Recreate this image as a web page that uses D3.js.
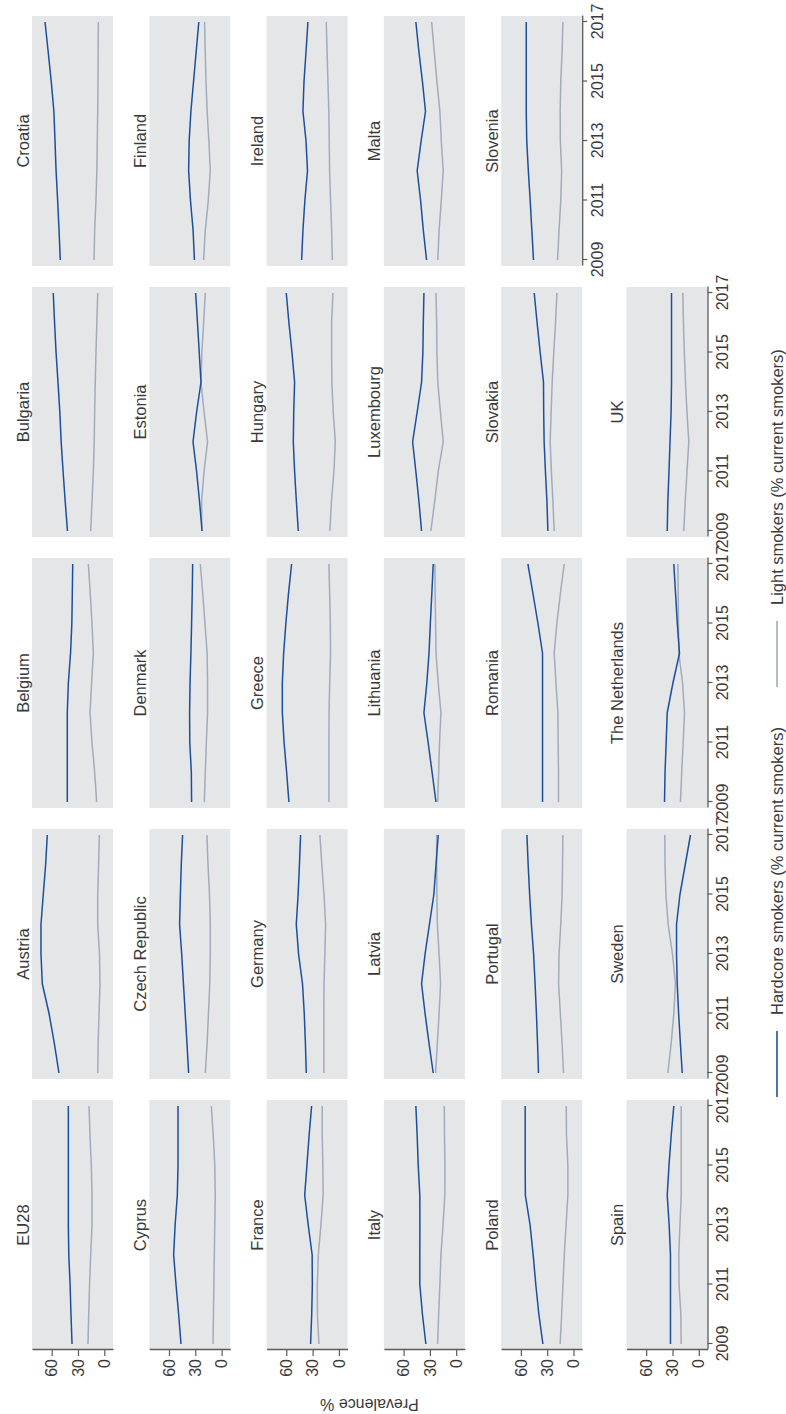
<!DOCTYPE html>
<html>
<head>
<meta charset="utf-8">
<script src="https://cdn.jsdelivr.net/npm/d3@7"></script>
<style>
  html, body { margin: 0; padding: 0; background: #ffffff; }
  svg { display: block; }
  text { font-family: "Liberation Sans", Arial, sans-serif; fill: #3a3a3a; }
</style>
</head>
<body>
<svg id="chart" width="786" height="1414"></svg>
<script>
// Survey years and axis ticks
const years = [2009, 2010, 2011, 2012, 2013, 2014, 2015, 2016, 2017];
const yearTicks = [2009, 2011, 2013, 2015, 2017];
const valueTicks = [0, 30, 60];

// Panels, in reading order
const countries = [
  "EU28", "Austria", "Belgium", "Bulgaria", "Croatia",
  "Cyprus", "Czech Republic", "Denmark", "Estonia", "Finland",
  "France", "Germany", "Greece", "Hungary", "Ireland",
  "Italy", "Latvia", "Lithuania", "Luxembourg", "Malta",
  "Poland", "Portugal", "Romania", "Slovakia", "Slovenia",
  "Spain", "Sweden", "The Netherlands", "UK"
];

// Hardcore smokers (% of current smokers), one row per country, 2009-2017
const hardcore = [
  [36.8, 38.0, 39.0, 40.5, 41.0, 41.0, 41.0, 41.0, 41.0],
  [51.7, 57.0, 63.0, 70.7, 72.2, 72.2, 69.6, 66.9, 65.0],
  [42.2, 42.2, 42.2, 42.2, 41.0, 38.5, 37.0, 36.5, 36.0],
  [42.0, 44.6, 47.0, 49.2, 50.7, 52.8, 55.0, 56.7, 58.2],
  [50.2, 51.6, 53.2, 55.0, 56.2, 57.5, 60.5, 64.0, 67.6],
  [46.3, 49.0, 52.0, 54.7, 53.0, 50.5, 49.7, 49.7, 49.7],
  [37.6, 39.5, 41.5, 43.5, 45.5, 47.9, 47.0, 46.0, 44.5],
  [34.2, 34.5, 36.3, 36.5, 36.0, 35.0, 34.2, 33.5, 33.0],
  [22.3, 25.2, 28.5, 32.6, 28.5, 23.5, 25.5, 27.5, 29.6],
  [31.0, 32.5, 35.5, 37.6, 37.0, 35.0, 32.0, 29.0, 26.0],
  [32.3, 31.0, 30.3, 30.5, 35.0, 39.0, 36.5, 34.0, 31.1],
  [37.2, 38.2, 39.5, 41.5, 46.0, 48.6, 46.5, 45.0, 43.7],
  [57.0, 59.6, 62.5, 64.5, 64.5, 63.0, 60.5, 57.5, 53.9],
  [46.3, 48.5, 50.5, 52.0, 51.5, 50.5, 53.5, 57.0, 60.0],
  [42.5, 41.0, 38.8, 35.8, 37.5, 41.0, 39.8, 37.5, 35.3],
  [34.6, 38.5, 41.5, 41.5, 41.4, 41.5, 43.3, 44.5, 46.0],
  [26.2, 31.0, 35.5, 39.5, 35.5, 30.5, 25.5, 23.0, 20.5],
  [23.1, 27.5, 32.0, 36.8, 33.5, 31.0, 29.5, 27.8, 26.2],
  [39.5, 42.5, 46.0, 49.7, 44.5, 39.5, 38.0, 37.5, 36.8],
  [33.8, 37.5, 40.6, 44.5, 40.0, 35.0, 38.5, 42.5, 46.0],
  [34.9, 39.5, 43.0, 46.0, 49.5, 54.9, 55.1, 55.1, 55.1],
  [39.9, 41.0, 42.3, 43.8, 45.5, 48.0, 50.0, 51.7, 53.1],
  [35.3, 35.3, 35.3, 35.3, 35.3, 35.3, 40.5, 46.2, 52.0],
  [29.2, 30.3, 32.0, 33.5, 34.0, 34.2, 38.0, 41.5, 44.8],
  [45.6, 47.5, 49.4, 51.5, 53.3, 53.9, 53.9, 53.9, 53.9],
  [32.3, 32.3, 32.3, 32.3, 33.8, 36.0, 34.0, 31.5, 28.5],
  [18.9, 21.0, 23.0, 24.6, 25.4, 25.4, 21.5, 15.5, 9.5],
  [39.1, 38.5, 37.2, 36.0, 29.5, 22.0, 24.5, 26.5, 28.5],
  [36.0, 35.3, 34.0, 32.8, 31.6, 31.1, 31.1, 31.1, 31.1]
];

// Light smokers (% of current smokers), one row per country, 2009-2017
const light = [
  [18.6, 17.8, 16.8, 15.5, 14.0, 14.0, 14.8, 16.3, 17.4],
  [7.5, 7.0, 6.0, 4.9, 5.5, 7.5, 7.5, 6.5, 5.7],
  [8.7, 11.0, 14.0, 16.3, 14.5, 12.5, 14.0, 16.0, 18.2],
  [15.5, 14.0, 12.5, 11.5, 11.0, 10.3, 9.5, 8.5, 7.5],
  [11.7, 11.0, 9.5, 8.5, 8.0, 7.5, 7.2, 7.0, 6.8],
  [9.8, 9.3, 8.8, 8.3, 7.8, 7.2, 7.8, 9.5, 11.7],
  [18.6, 16.5, 15.0, 13.5, 12.9, 12.9, 13.8, 15.5, 16.7],
  [19.7, 18.6, 17.4, 16.0, 16.0, 16.5, 19.0, 21.5, 24.3],
  [22.5, 22.8, 20.0, 16.0, 20.0, 23.5, 22.5, 20.5, 18.6],
  [20.5, 18.6, 15.2, 12.9, 14.5, 16.5, 17.8, 18.7, 19.4],
  [22.8, 24.5, 24.6, 23.5, 20.5, 18.0, 18.3, 19.0, 19.0],
  [17.1, 17.1, 17.1, 17.0, 16.0, 15.2, 17.0, 19.5, 21.7],
  [11.4, 11.4, 11.4, 11.2, 10.5, 9.5, 9.8, 10.5, 11.4],
  [10.3, 8.5, 5.7, 4.1, 6.5, 8.0, 8.3, 8.3, 6.8],
  [7.5, 8.3, 9.5, 10.6, 11.0, 11.5, 12.5, 13.5, 14.4],
  [21.2, 20.0, 18.6, 17.4, 15.0, 13.0, 12.9, 13.3, 13.6],
  [23.5, 21.5, 19.5, 17.8, 19.5, 21.5, 22.0, 22.3, 22.3],
  [21.2, 20.0, 19.0, 17.4, 20.5, 23.0, 23.5, 24.0, 24.3],
  [28.9, 24.5, 20.5, 14.8, 18.0, 21.0, 22.0, 22.3, 23.1],
  [21.0, 19.5, 17.0, 14.8, 17.0, 18.6, 22.0, 25.0, 28.0],
  [15.2, 13.5, 12.0, 10.5, 8.5, 6.4, 6.4, 8.0, 8.3],
  [11.4, 13.0, 15.0, 17.0, 16.5, 14.5, 13.0, 12.5, 12.1],
  [17.1, 17.1, 17.5, 17.8, 20.0, 22.0, 19.0, 15.0, 10.6],
  [22.0, 23.5, 25.2, 26.6, 25.5, 24.3, 22.5, 20.5, 18.9],
  [18.2, 16.5, 14.5, 13.5, 15.0, 15.2, 14.5, 13.0, 12.1],
  [20.1, 20.5, 22.5, 22.8, 21.5, 20.1, 20.1, 20.1, 20.1],
  [35.3, 31.5, 28.5, 26.6, 30.0, 35.0, 37.5, 38.5, 38.8],
  [20.9, 19.5, 17.8, 16.3, 18.5, 22.8, 23.2, 23.5, 23.9],
  [17.1, 15.5, 13.5, 11.4, 13.5, 15.2, 16.5, 17.5, 18.2]
];

const seriesNames = ["Hardcore smokers (% current smokers)", "Light smokers (% current smokers)"];
const seriesColors = ["#1b4f9c", "#a2aabb"];

// ---- layout (drawn landscape, then turned a quarter turn) ----
const W = 1414, H = 786;
const nCols = 5;
const panelW = 250, panelH = 81;
const colStep = 271, rowStep = 117.3, lastRowExtra = 8;
const left0 = 64, top0 = 32;

const svg = d3.select("#chart");
const root = svg.append("g")
  .attr("transform", `translate(0,${W}) rotate(-90)`);

const nRows = Math.ceil(countries.length / nCols);
const panelPos = i => {
  const r = Math.floor(i / nCols), c = i % nCols;
  return {
    r, c,
    x: left0 + c * colStep,
    y: top0 + r * rowStep + (r === nRows - 1 ? lastRowExtra : 0)
  };
};

const yearPad = 6 / 29.75;
const x = d3.scaleLinear().domain([2009 - yearPad, 2017 + yearPad]).range([0, panelW]);
const y = d3.scaleLinear().domain([-9.92, 82.44]).range([panelH, 0]);

const line = d3.line().x((d, k) => x(years[k])).y(d => y(d));

// bottom panel of each column gets the year axis
const lastInCol = d3.range(nCols).map(c => {
  let last = c;
  countries.forEach((_, i) => { if (i % nCols === c) last = i; });
  return last;
});

const styleAxis = ax => {
  ax.select(".domain").attr("stroke", "#5a5a5a").attr("stroke-width", 1.3);
  ax.selectAll(".tick line").attr("stroke", "#5a5a5a").attr("stroke-width", 1.2);
  ax.selectAll(".tick text")
    .attr("fill", "#3a3a3a")
    .style("font-family", '"Liberation Sans", Arial, sans-serif')
    .style("font-size", "16px");
};

countries.forEach((name, i) => {
  const p = panelPos(i);
  const g = root.append("g").attr("transform", `translate(${p.x},${p.y})`);

  g.append("rect")
    .attr("width", panelW).attr("height", panelH)
    .attr("fill", "#e5e6e8");

  g.append("text")
    .attr("x", panelW / 2).attr("y", -3.5)
    .attr("text-anchor", "middle")
    .style("font-size", "16.5px")
    .text(name);

  [light[i], hardcore[i]].forEach((vals, s) => {
    g.append("path")
      .datum(vals)
      .attr("d", line)
      .attr("fill", "none")
      .attr("stroke", s === 0 ? seriesColors[1] : seriesColors[0])
      .attr("stroke-width", 1.5)
      .attr("stroke-linejoin", "round");
  });

  if (p.c === 0) {
    g.append("g")
      .call(d3.axisLeft(y).tickValues(valueTicks).tickSize(6).tickSizeOuter(0).tickPadding(3))
      .call(styleAxis);
  }

  if (lastInCol.includes(i)) {
    g.append("g")
      .attr("transform", `translate(0,${panelH})`)
      .call(d3.axisBottom(x).tickValues(yearTicks).tickFormat(d3.format("d"))
        .tickSize(5).tickSizeOuter(0).tickPadding(4))
      .call(styleAxis);
  }
});

// y-axis title
root.append("text")
  .attr("transform", `translate(15,${top0 + (626 + panelH - top0) / 2}) rotate(-90)`)
  .attr("text-anchor", "middle")
  .style("font-size", "16px")
  .text("Prevalence %");

// legend
const legendY = 777;
const legendItems = [
  { name: seriesNames[0], color: seriesColors[0], x0: 317 },
  { name: seriesNames[1], color: seriesColors[1], x0: 727 }
];
const leg = root.append("g");
legendItems.forEach(d => {
  leg.append("line")
    .attr("x1", d.x0).attr("x2", d.x0 + 66)
    .attr("y1", legendY).attr("y2", legendY)
    .attr("stroke", d.color).attr("stroke-width", 1.6);
  leg.append("text")
    .attr("x", d.x0 + 82).attr("y", legendY + 5.5)
    .style("font-size", "16.5px")
    .text(d.name);
});
</script>
</body>
</html>
